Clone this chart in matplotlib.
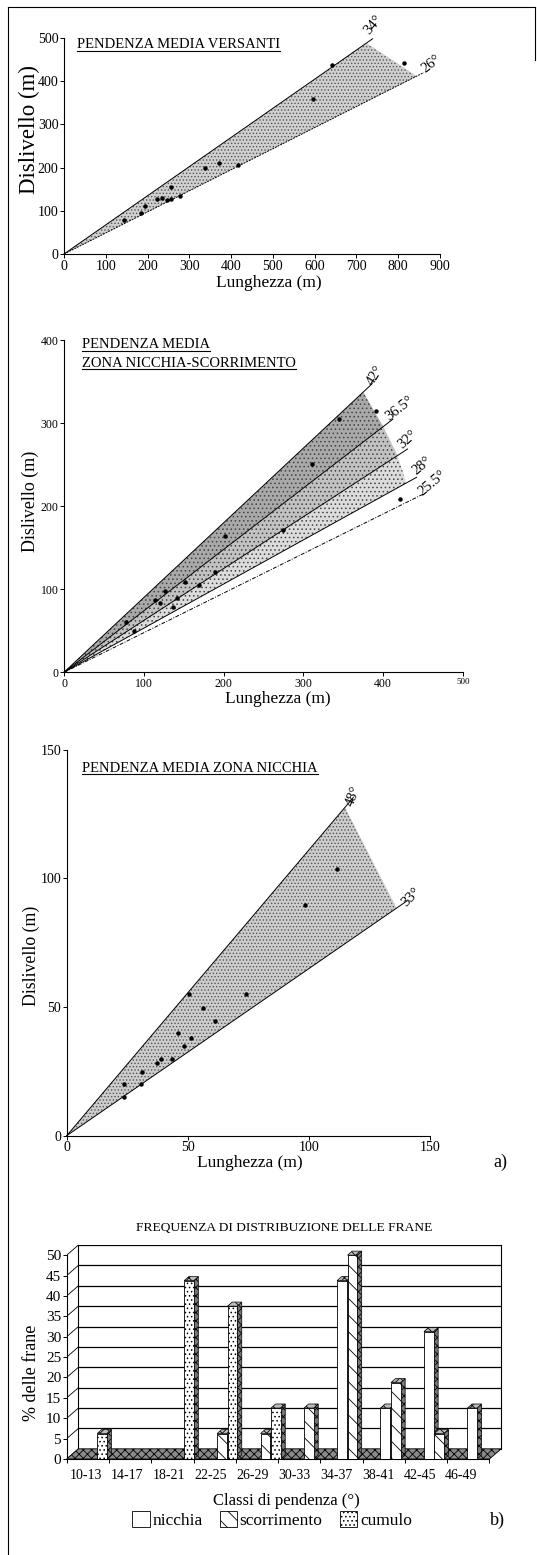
import matplotlib.pyplot as plt
import numpy as np
from matplotlib.patches import Polygon, Patch
from matplotlib.lines import Line2D

plt.rcParams['font.family'] = ['Liberation Serif', 'DejaVu Serif']
plt.rcParams['hatch.linewidth'] = 0.6

W, H = 537, 1555

# --- pendenza media versanti
vers_x = [144, 184, 193, 223, 235, 246, 255, 255, 278, 337, 372, 416, 597, 641, 815]
vers_y = [79, 94, 110, 127, 130, 125, 154, 127, 134, 200, 210, 205, 359, 437, 443]
vers_angles = [34, 26]

# --- zona nicchia-scorrimento
ns_x = [78, 88, 114, 120, 126, 137, 142, 152, 169, 189, 202, 275, 311, 344, 391, 421]
ns_y = [60, 50, 87, 83, 98, 79, 89, 109, 105, 121, 164, 171, 251, 305, 315, 209]
ns_angles = [42, 36.5, 32, 28, 25.5]

# --- zona nicchia
nic_x = [23.7, 23.7, 30.7, 31, 37.2, 39, 43.4, 46, 48.6, 50.3, 51.3, 56.4, 61.2, 74, 98.4, 111.5]
nic_y = [15.2, 20, 20, 24.9, 28.1, 29.7, 29.8, 39.8, 35, 55, 38, 49.5, 44.7, 55, 89.5, 103.5]
nic_angles = [48, 33]

# --- frequenza di distribuzione
classi = ['10-13', '14-17', '18-21', '22-25', '26-29', '30-33', '34-37', '38-41', '42-45', '46-49']
nicchia = [0, 0, 0, 0, 0, 0, 43.75, 12.5, 31.25, 12.5]
scorrimento = [0, 0, 0, 6.25, 6.25, 12.5, 50, 18.75, 6.25, 0]
cumulo = [6.25, 0, 43.75, 37.5, 12.5, 0, 0, 0, 0, 0]


fig = plt.figure(figsize=(W / 100, H / 100), dpi=100)


def add_ax(l, t, r, b):
    return fig.add_axes([l / W, 1 - b / H, (r - l) / W, (b - t) / H])


def ftext(x, y, s, **kw):
    return fig.text(x / W, 1 - y / H, s, **kw)


def style_ax(ax, fs):
    for s in ['top', 'right']:
        ax.spines[s].set_visible(False)
    for s in ['left', 'bottom']:
        ax.spines[s].set_linewidth(0.8)
    ax.tick_params(direction='out', length=3, width=0.7, labelsize=fs, pad=1)


def ray(ax, ang, xe, **kw):
    t = np.tan(np.radians(ang))
    ax.plot([0, xe], [0, xe * t], color='k', clip_on=False, **kw)


def pt(ang, xe):
    return (xe, xe * np.tan(np.radians(ang)))


titles = []

# ---------------- panel 1
ax1 = add_ax(64, 38, 440, 254)
style_ax(ax1, 10)
ax1.set_xlim(0, 900)
ax1.set_ylim(0, 500)
ax1.set_xticks(range(0, 1000, 100))
ax1.set_yticks(range(0, 600, 100))
ends1 = [724, 844]
ax1.add_patch(Polygon([(0, 0), pt(vers_angles[0], ends1[0]), pt(vers_angles[1], ends1[1])],
                      fc='#d0d0d0', ec='#555555', hatch='.....', lw=0, zorder=1))
ray(ax1, vers_angles[0], ends1[0] * 1.02, lw=0.7)
ray(ax1, vers_angles[1], ends1[1] * 1.02, lw=0.7, ls=(0, (2, 1)))
ax1.plot(vers_x, vers_y, 'o', color='k', ms=2.2, zorder=3)
ax1.text(740, 530, '34°', fontsize=10.5, rotation=50, ha='center', va='center')
ax1.text(880, 441, '26°', fontsize=10.5, rotation=38, ha='center', va='center')
ftext(29, 129, 'Dislivello (m)', fontsize=16.5, rotation=90, ha='center', va='center')
ftext(269, 283, 'Lunghezza (m)', fontsize=12.5, ha='center', va='center')
titles.append((ftext(77, 48, 'PENDENZA MEDIA VERSANTI', fontsize=10.5, va='baseline'), 48))

# ---------------- panel 2
ax2 = add_ax(64, 340.3, 463, 672.3)
style_ax(ax2, 8.5)
ax2.set_xlim(0, 500)
ax2.set_ylim(0, 400)
ax2.set_xticks(range(0, 600, 100))
ax2.set_yticks(range(0, 500, 100))
ax2.get_xticklabels()[-1].set_fontsize(6.5)
ends2 = [375, 400, 418, 429, 437]
shades = ['#a9a9a9', '#c2c2c2', '#dcdcdc']
for i, fc in enumerate(shades):
    ax2.add_patch(Polygon([(0, 0), pt(ns_angles[i], ends2[i]), pt(ns_angles[i + 1], ends2[i + 1])],
                          fc=fc, ec='#444444', hatch='....', lw=0, zorder=1))
for i, a in enumerate(ns_angles):
    ray(ax2, a, ends2[i] * 1.03, lw=0.7, ls='-' if i < 4 else (0, (4, 1.5, 1, 1.5)))
ax2.plot(ns_x, ns_y, 'o', color='k', ms=2.2, zorder=3)
lab2 = [(390, 358, 58), (421, 318, 38), (431, 280, 42), (448, 249, 40), (461, 228, 40)]
for (lx, ly, rot), a in zip(lab2, ns_angles):
    ax2.text(lx, ly, f'{a:g}°', fontsize=10.5, rotation=rot, ha='center', va='center')
ftext(30, 501, 'Dislivello (m)', fontsize=13, rotation=90, ha='center', va='center')
ftext(278, 699, 'Lunghezza (m)', fontsize=12.5, ha='center', va='center')
titles.append((ftext(82, 348.3, 'PENDENZA MEDIA', fontsize=10.5, va='baseline'), 348.3))
titles.append((ftext(82, 366.7, 'ZONA NICCHIA-SCORRIMENTO', fontsize=10.5, va='baseline'), 366.7))

# ---------------- panel 3
ax3 = add_ax(66.7, 749.7, 430, 1135.7)
style_ax(ax3, 10)
ax3.set_xlim(0, 150)
ax3.set_ylim(0, 150)
ax3.set_xticks(range(0, 200, 50))
ax3.set_yticks(range(0, 200, 50))
ends3 = [114.9, 136.2]
ax3.add_patch(Polygon([(0, 0), pt(nic_angles[0], ends3[0]), pt(nic_angles[1], ends3[1])],
                      fc='#cdcdcd', ec='#555555', hatch='.....', lw=0, zorder=1))
ray(ax3, nic_angles[0], ends3[0] * 1.03, lw=0.7)
ray(ax3, nic_angles[1], ends3[1] * 1.03, lw=0.7)
ax3.plot(nic_x, nic_y, 'o', color='k', ms=2.2, zorder=3)
ax3.text(118.5, 132, '48°', fontsize=10.5, rotation=68, ha='center', va='center')
ax3.text(142, 92.5, '33°', fontsize=10.5, rotation=45, ha='center', va='center')
ftext(31.7, 956, 'Dislivello (m)', fontsize=12.8, rotation=90, ha='center', va='center')
ftext(250, 1163, 'Lunghezza (m)', fontsize=12.5, ha='center', va='center')
titles.append((ftext(82, 771.7, 'PENDENZA MEDIA ZONA NICCHIA', fontsize=10.5, va='baseline'), 771.7))
ftext(500, 1162, 'a)', fontsize=13, ha='center', va='center')

# ---------------- panel 4 (pseudo 3D bars)
ax4 = add_ax(66.7, 1245, 502, 1459)
x0, x1 = -0.455, 9.67
ddx, ddy = 0.28, 2.5
ax4.set_xlim(x0, x1 + ddx + 0.02)
ax4.set_ylim(0, 50 + ddy)
for s in ['top', 'right']:
    ax4.spines[s].set_visible(False)
ax4.spines['left'].set_bounds(0, 50)
ax4.spines['bottom'].set_bounds(x0, x1)
ax4.spines['left'].set_linewidth(0.8)
ax4.spines['bottom'].set_linewidth(0.8)
ax4.set_yticks(range(0, 55, 5))
ax4.set_xticks(range(len(classi)))
ax4.set_xticklabels(classi)
ax4.set_xticks(np.linspace(x0, x1, len(classi) + 1), minor=True)
ax4.tick_params(axis='y', direction='out', length=3, width=0.7, labelsize=11, pad=1)
ax4.tick_params(axis='x', which='major', length=0, labelsize=10, pad=7)
ax4.tick_params(axis='x', which='minor', direction='out', length=3, width=0.7)

# back wall, grid and floor
for v in range(5, 55, 5):
    ax4.plot([x0 + ddx, x1 + ddx], [v + ddy] * 2, color='k', lw=0.9, zorder=0.5)
for v in range(0, 55, 5):
    ax4.plot([x0, x0 + ddx], [v, v + ddy], color='k', lw=0.6, zorder=0.5)
ax4.plot([x0 + ddx] * 2, [ddy, 50 + ddy], color='k', lw=0.8, zorder=0.5)
ax4.plot([x1 + ddx] * 2, [ddy, 50 + ddy], color='k', lw=0.8, zorder=0.5, clip_on=False)
ax4.add_patch(Polygon([(x0, 0), (x1, 0), (x1 + ddx, ddy), (x0 + ddx, ddy)],
                      fc='#8a8a8a', ec='k', hatch='xxxx', lw=0.6, zorder=1, clip_on=False))

step = 1.041
offsets = [-0.112, 0.139, 0.39]
bw = 0.23
bdx, bdy = 0.11, 1.0
series = [(nicchia, '', 3), (scorrimento, '\\\\', 4), (cumulo, '....', 5)]
idx = np.arange(len(classi))
for (vals, hatch, z), off in zip(series, offsets):
    vals = np.array(vals)
    m = vals > 0
    bars = ax4.bar(idx[m] * step + off, vals[m], bw, fc='white', ec='k', hatch=hatch, lw=0.6, zorder=z)
    for r in bars:
        bx, bwid, bh = r.get_x(), r.get_width(), r.get_height()
        xr = bx + bwid
        ax4.add_patch(Polygon([(xr, 0), (xr + bdx, bdy), (xr + bdx, bh + bdy), (xr, bh)],
                              fc='#777777', ec='k', hatch='xxxx', lw=0.5, zorder=z - 0.1))
        ax4.add_patch(Polygon([(bx, bh), (bx + bdx, bh + bdy), (xr + bdx, bh + bdy), (xr, bh)],
                              fc='#bbbbbb', ec='k', hatch='xxx', lw=0.5, zorder=z - 0.1))

ftext(284, 1228, 'FREQUENZA DI DISTRIBUZIONE DELLE FRANE', fontsize=9.7, ha='center', va='center')
ftext(31.7, 1373, '% delle frane', fontsize=13, rotation=90, ha='center', va='center')
ftext(286, 1501, 'Classi di pendenza (°)', fontsize=12, ha='center', va='center')
handles = [Patch(fc='white', ec='k', lw=0.6, hatch=h) for h in ['', '\\\\', '....']]
fig.legend(handles, ['nicchia', 'scorrimento', 'cumulo'], loc='center',
           bbox_to_anchor=(272 / W, 1 - 1520 / H), ncol=3, frameon=False, fontsize=12.5,
           handlelength=1.0, handleheight=1.0, handletextpad=0.15, columnspacing=1.0,
           borderpad=0)
ftext(497, 1520, 'b)', fontsize=13, ha='center', va='center')

# page border
fig.add_artist(Line2D([8 / W, 8 / W], [0, 1 - 7 / H], color='k', lw=0.8))
fig.add_artist(Line2D([8 / W, 535 / W], [1 - 7 / H, 1 - 7 / H], color='k', lw=0.8))
fig.add_artist(Line2D([535 / W, 535 / W], [1 - 7 / H, 1 - 60 / H], color='k', lw=0.8))

# underline the panel titles
fig.canvas.draw()
rend = fig.canvas.get_renderer()
for t, base in titles:
    bb = t.get_window_extent(rend)
    yy = 1 - (base + 2.5) / H
    fig.add_artist(Line2D([bb.x0 / W, bb.x1 / W], [yy, yy], color='k', lw=0.8))

fig.savefig('out.png', dpi=100)
